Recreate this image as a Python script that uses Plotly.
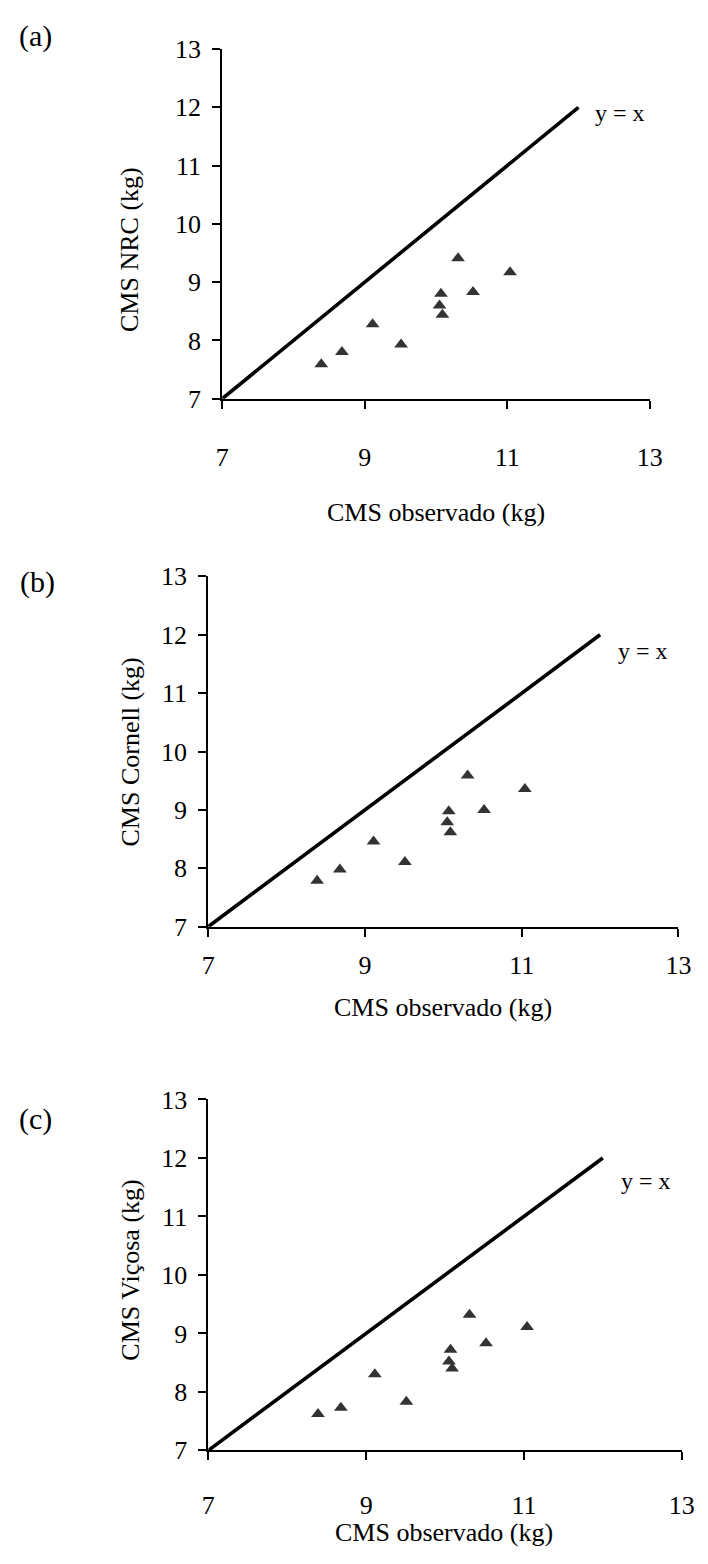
import plotly.graph_objects as go

W, H = 708, 1564

# ---- data ----
cms_observado = [8.39, 8.68, 9.11, 9.51, 10.07, 10.05, 10.09, 10.31, 10.52, 11.04]
cms_nrc = [7.59, 7.80, 8.28, 7.93, 8.80, 8.60, 8.44, 9.41, 8.83, 9.17]
cms_cornell = [7.79, 7.98, 8.46, 8.11, 8.98, 8.79, 8.62, 9.59, 9.00, 9.36]
cms_vicosa = [7.62, 7.73, 8.30, 7.83, 8.72, 8.52, 8.40, 9.32, 8.83, 9.11]
identity_x = [7, 12]
identity_y = [7, 12]
x_ticks = [7, 9, 11, 13]
y_ticks = [7, 8, 9, 10, 11, 12, 13]
panel_labels = ["(a)", "(b)", "(c)"]
y_titles = ["CMS NRC (kg)", "CMS Cornell (kg)", "CMS Viçosa (kg)"]
x_title = "CMS observado (kg)"
line_label = "y = x"

FONT = "Liberation Serif, Times New Roman, serif"

# panel boxes in pixels: left, right, top, bottom
boxes = [(221.5, 661.4, 35.7, 392.0),
         (207.0, 691.0, 573.0, 930.0),
         (207.2, 694.3, 1106.0, 1463.5)]
x_std = [26, 6, 22]
# text positions in pixels
panel_lab_pos = [(29, 22), (31, 579), (29, 1126)]
ytitle_pos = [(126, 240), (127, 752), (127, 1280)]
xtitle_pos = [(441, 508), (449, 1012), (450, 1547)]
linelab_y = [11.9, 11.73, 11.6]

def px(x):
    return x / W

def py(y):
    return 1 - y / H

series = [cms_nrc, cms_cornell, cms_vicosa]

fig = go.Figure()
annotations = []
for i, (ys, box) in enumerate(zip(series, boxes)):
    sfx = "" if i == 0 else str(i + 1)
    xa, ya = "x" + sfx, "y" + sfx
    fig.add_trace(go.Scatter(x=identity_x, y=identity_y, mode="lines",
                             line=dict(color="black", width=3.6),
                             xaxis=xa, yaxis=ya, showlegend=False, hoverinfo="skip"))
    fig.add_trace(go.Scatter(x=cms_observado, y=ys, mode="markers",
                             marker=dict(symbol="triangle-up", size=12, color="#333333",
                                         line=dict(width=0)),
                             xaxis=xa, yaxis=ya, showlegend=False))
    l, r, t, b = box
    axcommon = dict(showline=True, linecolor="black", linewidth=2, ticks="outside",
                    ticklen=8, tickwidth=2, tickcolor="black", showgrid=False,
                    zeroline=False, tickfont=dict(family=FONT, size=26, color="black"))
    fig.update_layout(**{
        "xaxis" + sfx: dict(domain=[px(l), px(r)], anchor=ya, range=[7, 13],
                            tickvals=x_ticks, ticktext=[str(v) for v in x_ticks],
                            ticklabelstandoff=x_std[i], **axcommon),
        "yaxis" + sfx: dict(domain=[py(b), py(t)], anchor=xa, range=[7, 13],
                            tickvals=y_ticks, ticktext=[str(v) for v in y_ticks],
                            ticklabelstandoff=6, **axcommon),
    })
    annotations.append(dict(x=12.2, y=linelab_y[i], xref=xa, yref=ya, text=line_label,
                            showarrow=False, xanchor="left", yanchor="middle",
                            font=dict(family=FONT, size=24, color="black")))
    annotations.append(dict(x=px(panel_lab_pos[i][0]), y=py(panel_lab_pos[i][1]),
                            xref="paper", yref="paper", text=panel_labels[i],
                            showarrow=False, xanchor="center", yanchor="middle",
                            font=dict(family=FONT, size=30, color="black")))
    annotations.append(dict(x=px(ytitle_pos[i][0]), y=py(ytitle_pos[i][1]),
                            xref="paper", yref="paper", text=y_titles[i], textangle=-90,
                            showarrow=False, xanchor="center", yanchor="middle",
                            font=dict(family=FONT, size=26, color="black")))
    annotations.append(dict(x=px(xtitle_pos[i][0]), y=py(xtitle_pos[i][1]),
                            xref="paper", yref="paper", text=x_title,
                            showarrow=False, xanchor="center", yanchor="middle",
                            font=dict(family=FONT, size=26, color="black")))

fig.update_layout(width=W, height=H, margin=dict(l=0, r=0, t=0, b=0),
                  paper_bgcolor="white", plot_bgcolor="white",
                  annotations=annotations, showlegend=False)

fig.write_html("out.html")
